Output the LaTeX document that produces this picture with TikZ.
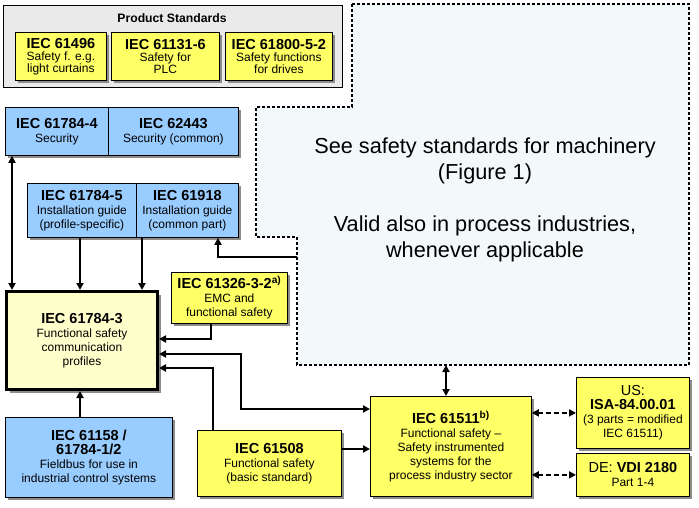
\documentclass[tikz,border=0pt]{standalone}
\usepackage{fontspec}
\setmainfont{Liberation Sans}
\usetikzlibrary{arrows.meta,shadows}
\definecolor{ylw}{RGB}{255,255,102}
\definecolor{lylw}{RGB}{255,255,204}
\definecolor{blu}{RGB}{153,204,255}
\definecolor{gry}{RGB}{234,234,234}
\definecolor{regfill}{RGB}{243,249,250}
\definecolor{shd}{RGB}{140,140,140}
\newcommand\tline[1]{{\fontsize{14.5}{15.5}\selectfont\bfseries #1}}
\tikzset{
  box/.style={draw=black, line width=0.8pt, inner sep=1pt, align=center, anchor=north west,
    font=\fontsize{12}{14}\selectfont,
    drop shadow={shadow xshift=3pt, shadow yshift=-3pt, fill=shd, opacity=1}},
  ybox/.style={box, fill=ylw},
  bbox/.style={box, fill=blu},
  pbox/.style={ybox, font=\fontsize{12}{12}\selectfont},
  con/.style={line width=1.8pt, -{Triangle[length=7pt,width=7pt]}},
  con2/.style={line width=1.8pt, {Triangle[length=7pt,width=7pt]}-{Triangle[length=7pt,width=7pt]}},
  dcon/.style={con2, dash pattern=on 5pt off 3pt},
}
\begin{document}
\begin{tikzpicture}[x=1pt,y=-1pt]
\useasboundingbox (0,0) rectangle (699,508);
% dashed region
\path[draw=black, line width=1.3pt, dash pattern=on 3pt off 2pt, fill=regfill]
  (352,4) -- (689,4) -- (689,365) -- (297,365) -- (297,237) -- (256,237) -- (256,107) -- (352,107) -- cycle;
\coordinate (regA) at (297,257);
\coordinate (regB) at (446,365);
\node[font=\fontsize{21.7}{26}\selectfont, align=center] (see) at (485,161) {See safety standards for machinery\\(Figure 1)};
\node[font=\fontsize{21.7}{26}\selectfont, align=center] (valid) at (485,239) {Valid also in process industries,\\whenever applicable};
% product standards
\node[draw=black, line width=0.8pt, fill=gry, anchor=north west, minimum width=339pt, minimum height=82pt] (prod) at (3,5) {};
\node[font=\fontsize{12.2}{13}\selectfont\bfseries] (prodt) at (172,18) {Product Standards};
\node[pbox, minimum width=91pt, minimum height=48pt] (p1) at (15,32) {\tline{IEC 61496}\\Safety f. e.g.\\light curtains};
\node[pbox, minimum width=108pt, minimum height=48pt] (p2) at (111,32) {\tline{IEC 61131-6}\\Safety for\\PLC};
\node[pbox, minimum width=107pt, minimum height=48pt] (p3) at (225,32) {\tline{IEC 61800-5-2}\\Safety functions\\for drives};
% security
\node[bbox, minimum width=103pt, minimum height=48pt] (sec1) at (5,107) {\tline{IEC 61784-4}\\Security};
\node[bbox, minimum width=130pt, minimum height=48pt] (sec2) at (108,107) {\tline{IEC 62443}\\Security (common)};
% installation
\node[bbox, minimum width=109pt, minimum height=54pt] (inst1) at (27,183) {\tline{IEC 61784-5}\\Installation guide\\(profile-specific)};
\node[bbox, minimum width=102pt, minimum height=54pt] (inst2) at (136,183) {\tline{IEC 61918}\\Installation guide\\(common part)};
% functional safety comm profiles
\node[box, fill=lylw, line width=3pt, minimum width=151pt, minimum height=98pt] (fsc) at (5,290) {\tline{IEC 61784-3}\\Functional safety\\communication\\profiles};
\node[ybox, minimum width=116pt, minimum height=51pt] (emc) at (171,272) {\tline{IEC 61326-3-2\textsuperscript{a)}}\\EMC and\\functional safety};
\node[bbox, minimum width=167pt, minimum height=80pt] (fb) at (5,417) {\tline{IEC 61158 /}\\\tline{61784-1/2}\\Fieldbus for use in\\industrial control systems};
\node[ybox, minimum width=144pt, minimum height=66pt] (b61508) at (197,430) {\tline{IEC 61508}\\Functional safety\\(basic standard)};
\node[ybox, minimum width=161pt, minimum height=100pt] (b61511) at (370,396) {\tline{IEC 61511\textsuperscript{b)}}\\Functional safety --\\Safety instrumented\\systems for the\\process industry sector};
\node[ybox, minimum width=113pt, minimum height=71pt] (us) at (576,377) {{\fontsize{14.5}{15.5}\selectfont US:}\\\tline{ISA-84.00.01}\\(3 parts = modified\\IEC 61511)};
\node[ybox, minimum width=113pt, minimum height=43pt] (de) at (576,453) {{\fontsize{14.5}{15.5}\selectfont DE: \bfseries VDI 2180}\\Part 1-4};
% connectors
\draw[con2] ([xshift=7pt]sec1.south west) -- ([xshift=7pt]fsc.north west);
\draw[con] ([xshift=53pt]inst1.south west) -- ([xshift=53pt]inst1.south west |- fsc.north);
\draw[con] ([xshift=6pt]inst2.south west) -- ([xshift=6pt]inst2.south west |- fsc.north);
\draw[con] (regA) -| ([xshift=82pt]inst2.south west);
\draw[con] ([xshift=40pt]emc.south west) |- ([yshift=-49pt]fsc.north east);
\draw[con2] ([yshift=-64pt]fsc.north east) -- ++(82,0) |- ([yshift=-13pt]b61511.north west);
\draw[con] ([xshift=16pt]b61508.north west) |- ([yshift=-78pt]fsc.north east);
\draw[con] ([yshift=-19pt]b61508.north east) -- ([yshift=-19pt]b61508.north east -| b61511.west);
\draw[con] ([xshift=75pt]fb.north west) -- ([xshift=75pt]fb.north west |- fsc.south);
\draw[con2] (regB) -- (regB |- b61511.north);
\draw[dcon] (us.west -| b61511.east) -- (us.west);
\draw[dcon] (de.west -| b61511.east) -- (de.west);
\end{tikzpicture}
\end{document}
